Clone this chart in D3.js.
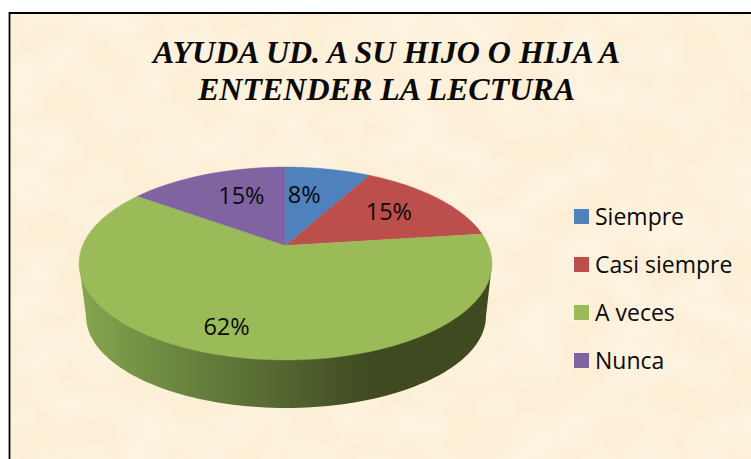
<!DOCTYPE html>
<html>
<head>
<meta charset="utf-8">
<script src="https://cdn.jsdelivr.net/npm/d3@7"></script>
<style>
  html, body { margin: 0; padding: 0; background: #fff; }
  svg { display: block; }
  .title { font-family: "Liberation Serif", serif; font-weight: bold; font-style: italic; font-size: 32px; fill: #0a0a0a; }
  .lbl { font-family: "Open Sans", sans-serif; font-size: 23.5px; fill: #0a0a0a; }
  .legend text { font-family: "Open Sans", sans-serif; font-size: 23px; fill: #0a0a0a; }
</style>
</head>
<body>
<svg width="751" height="459"></svg>
<script>
const categories = ['Siempre', 'Casi siempre', 'A veces', 'Nunca'],
      values = [8, 15, 62, 15],
      colors = ['#4f81bd', '#bc4f4c', '#9bbb59', '#8064a2'],
      titleLines = ['AYUDA UD. A SU HIJO O HIJA A', 'ENTENDER LA LECTURA'];

const width = 751, height = 459;

// top face ellipse and the (smaller) bottom ellipse, the chart is in perspective
const top3d = { cx: 285.5, cy: 263.5, rx: 206.5, ry: 96.5 },
      bot3d = { cx: 286, cy: 316, rx: 200, ry: 92 },
      apexY = -0.187;   // where the pie centre lands, in unit ellipse coords

const x = d3.scaleLinear().domain([-1, 1]).range([top3d.cx - top3d.rx, top3d.cx + top3d.rx]),
      y = d3.scaleLinear().domain([-1, 1]).range([top3d.cy - top3d.ry, top3d.cy + top3d.ry]);

const b = apexY / (1 + Math.sqrt(1 - apexY * apexY)),
      k = (1 + b) / (1 - b);

// projective map of the circle angle onto the ellipse
const squash = a => 2 * Math.atan(k * Math.tan(a / 2));
const onFace = (a, r = 1) => {
  const t = squash(a);
  return [
    x(0) + (x(Math.sin(t)) - x(0)) * r,
    y(apexY) + (y(-Math.cos(t)) - y(apexY)) * r
  ];
};

const svg = d3.select('svg');
const defs = svg.append('defs');

const paper = defs.append('filter').attr('id', 'paper')
    .attr('x', 0).attr('y', 0).attr('width', 1).attr('height', 1);
paper.append('feTurbulence')
    .attr('type', 'fractalNoise').attr('baseFrequency', '0.018 0.024')
    .attr('numOctaves', 3).attr('seed', 7);
paper.append('feColorMatrix').attr('type', 'matrix')
    .attr('values', '0 0 0 0 1  0 0 0 0 0.96  0 0 0 0 0.89  0.9 0 0 0 -0.3');
paper.append('feComposite').attr('in2', 'SourceGraphic').attr('operator', 'over');

const wallGrad = defs.append('linearGradient').attr('id', 'wall')
    .attr('gradientUnits', 'userSpaceOnUse')
    .attr('x1', x(-1)).attr('x2', x(1)).attr('y1', 0).attr('y2', 0);
[[0, '#87a64f'], [0.2, '#6f8a41'], [0.5, '#536530'], [0.7, '#3f4a21'], [1, '#3f4a21']]
  .forEach(s => wallGrad.append('stop').attr('offset', s[0]).attr('stop-color', s[1]));

// background + border
svg.append('rect')
    .attr('x', 10).attr('y', 13).attr('width', width - 10).attr('height', height - 13)
    .attr('fill', '#fcefd6').attr('filter', 'url(#paper)');
svg.append('path')
    .attr('d', d3.line()([[9.5, height], [9.5, 13], [width, 13]]))
    .attr('fill', 'none').attr('stroke', '#000').attr('stroke-width', 1.8);

// side wall
const line = d3.line();
svg.append('path')
    .attr('d', line([[x(-1), y(0)]].concat(d3.range(180, -0.5, -2).map(d => {
      const a = d * Math.PI / 180;
      return [bot3d.cx + bot3d.rx * Math.cos(a), bot3d.cy + bot3d.ry * Math.sin(a)];
    }), [[x(1), y(0)]])) + 'Z')
    .attr('fill', 'url(#wall)');

// top face
const pie = d3.pie().sort(null).value(d => d);
const arcs = pie(values);

const slicePath = d => {
  const n = Math.max(2, Math.ceil((d.endAngle - d.startAngle) * 40));
  const pts = d3.range(n + 1).map(i => onFace(d.startAngle + (d.endAngle - d.startAngle) * i / n));
  return line([onFace(0, 0)].concat(pts)) + 'Z';
};

svg.append('g').selectAll('path')
  .data(arcs)
  .enter().append('path')
    .attr('d', slicePath)
    .attr('fill', (d, i) => colors[i])
    .attr('stroke', (d, i) => colors[i])
    .attr('stroke-width', 0.4);

// labels, at a fraction of the radius along each slice's middle, then nudged
const labelR = [0.72, 0.78, 0.68, 0.66],
      labelNudge = [[-12, 5], [-15, 3], [-17, 7], [8, -3]];
const labelPos = (d, i) => {
  const p = onFace((d.startAngle + d.endAngle) / 2, labelR[i]);
  return [p[0] + labelNudge[i][0], p[1] + labelNudge[i][1] + 8];
};
svg.append('g').selectAll('text')
  .data(arcs)
  .enter().append('text')
    .attr('class', 'lbl')
    .attr('text-anchor', 'middle')
    .attr('x', (d, i) => labelPos(d, i)[0])
    .attr('y', (d, i) => labelPos(d, i)[1])
    .text(d => d.value + '%');

// title
svg.append('g').selectAll('text')
  .data(titleLines)
  .enter().append('text')
    .attr('class', 'title')
    .attr('text-anchor', 'middle')
    .attr('x', 386.5)
    .attr('y', (d, i) => 63 + i * 37)
    .text(d => d);

// legend
const ly = d3.scalePoint().domain(categories).range([216.5, 360.5]);
const legend = svg.append('g').attr('class', 'legend').selectAll('g')
  .data(categories)
  .enter().append('g')
    .attr('transform', d => `translate(574,${ly(d)})`);
legend.append('rect')
    .attr('y', -7.5).attr('width', 15).attr('height', 15)
    .attr('fill', (d, i) => colors[i]);
legend.append('text')
    .attr('x', 21).attr('y', 8)
    .text(d => d);
</script>
</body>
</html>
